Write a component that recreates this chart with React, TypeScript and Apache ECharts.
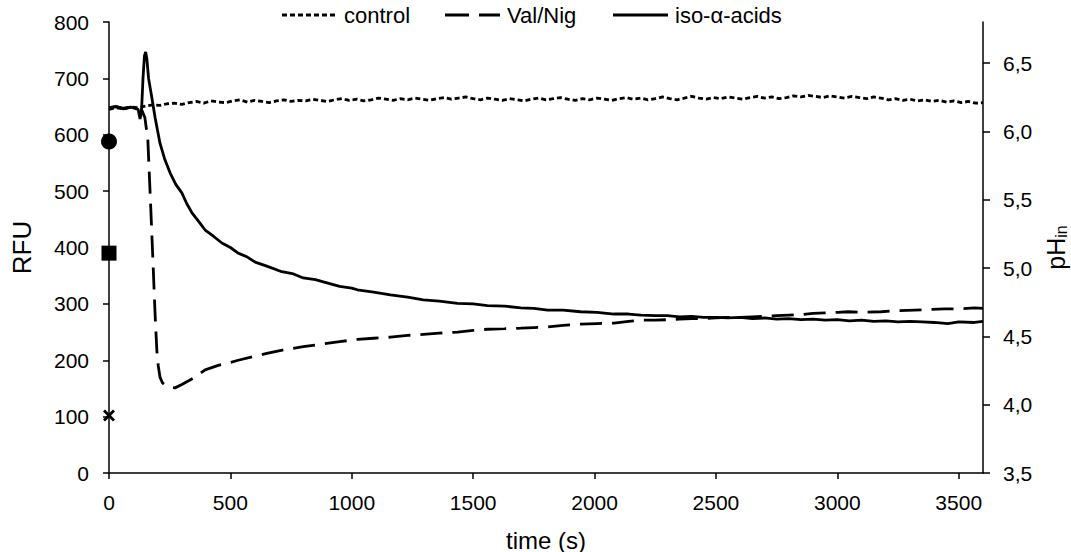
import React, { useEffect, useRef } from "react";
import * as echarts from "echarts";

// ---- data ----
const xTicks = [0, 500, 1000, 1500, 2000, 2500, 3000, 3500];
const phTicks = [3.5, 4.0, 4.5, 5.0, 5.5, 6.0, 6.5];
const legendNames = ["control", "Val/Nig", "iso-α-acids"];

const ctlT = [0,30,60,90,120,150,180,210,240,270,300,330,360,390,420,450,480,510,540,570,600,630,660,690,720,750,780,810,840,870,900,930,960,990,1020,1050,1080,1110,1140,1170,1200,1230,1260,1290,1320,1350,1380,1410,1440,1470,1500,1530,1560,1590,1620,1650,1680,1710,1740,1770,1800,1830,1860,1890,1920,1950,1980,2010,2040,2070,2100,2130,2160,2190,2220,2250,2280,2310,2340,2370,2400,2430,2460,2490,2520,2550,2580,2610,2640,2670,2700,2730,2760,2790,2820,2850,2880,2910,2940,2970,3000,3030,3060,3090,3120,3150,3180,3210,3240,3270,3300,3330,3360,3390,3420,3450,3480,3510,3540,3570,3600];
const ctlV = [645,648,646,649,648,
  651,653,652,655,656,654,657,659,656,660,658,
  657,660,662,658,661,659,657,660,662,659,661,
  660,663,661,659,662,664,661,663,660,662,665,
  663,661,664,662,665,663,661,664,666,663,665,
  667,664,662,665,663,661,664,662,660,663,665,
  662,664,666,663,661,664,662,665,663,661,664,
  666,663,665,662,664,667,664,662,665,668,665,
  663,666,664,667,665,663,666,668,665,667,664,
  666,669,667,670,668,666,669,667,665,668,666,
  664,667,665,662,664,661,663,660,662,659,661,
  658,660,657,659,656,657];

const vnT = [0,30,60,90,120,135,148,160,172,183,190,197,203,210,220,231,250,272,300,330,355,396,450,500,532,600,650,714,800,883,950,1023,1090,1159,1230,1295,1360,1436,1500,1559,1630,1696,1750,1807,1870,1943,2010,2080,2140,2191,2250,2300,2350,2400,2450,2500,2550,2600,2650,2700,2750,2800,2850,2900,2950,3000,3045,3100,3181,3250,3317,3380,3441,3500,3565,3600];
const vnV = [648,650,647,649,646,644,630,591,470,355,280,218,190,170,160,156,152,151,157,164,170,183,191,196,200,207,212,218,224,229,233,237,239,241,244,246,248,250,253,255,256,257,258,259,262,264,265,266,269,271,271,272,273,274,274,275,276,276,277,278,279,280,281,283,284,285,286,285,286,288,289,290,291,291,293,292];

const isoT = [0,30,60,90,120,128,134,140,146,151,156,163,176,190,210,230,252,275,300,320,341,370,396,430,465,500,532,570,602,650,712,760,800,850,883,950,1000,1023,1090,1159,1230,1295,1360,1436,1500,1559,1630,1696,1750,1807,1870,1943,2010,2080,2140,2191,2250,2300,2350,2400,2450,2500,2550,2600,2650,2700,2750,2800,2850,2900,2950,3000,3050,3100,3150,3200,3250,3300,3350,3400,3455,3500,3565,3600];
const isoV = [648,650,646,649,645,628,642,700,740,747,735,700,667,630,585,556,532,512,497,478,462,446,431,420,408,400,390,383,374,367,357,353,346,343,339,331,328,325,321,316,312,307,305,301,300,297,296,293,292,289,289,286,285,282,282,280,279,279,277,278,276,276,275,276,274,275,273,274,272,273,271,272,270,271,269,270,268,269,268,267,265,268,267,269];

const markerT = 0;
const circleRFU = 588;
const squareRFU = 390;
const crossRFU = 102;

const FONT = "Liberation Sans, Arial, sans-serif";
const zip = (t: number[], v: number[]) => t.map((x, i) => [x, v[i]]);
const CROSS = "path://M0,2 L2,0 L6,4 L10,0 L12,2 L8,6 L12,10 L10,12 L6,8 L2,12 L0,10 L4,6 Z";

const CTL_DASH = [5, 3];
const VN_DASH = [22, 10];
const LW = 2.8;

function legendItem(x: number, label: string, dash: number[] | null) {
  const y = 15;
  return [
    {
      type: "line",
      shape: { x1: x, y1: y, x2: x + 55, y2: y },
      style: { stroke: "#000", lineWidth: LW, lineDash: dash || undefined },
      silent: true,
    },
    {
      type: "text",
      x: x + 62,
      y,
      style: { text: label, fill: "#000", font: `22px ${FONT}`, verticalAlign: "middle", align: "left" },
      silent: true,
    },
  ];
}

export default function App() {
  const ref = useRef<HTMLDivElement>(null);
  useEffect(() => {
    document.body.style.margin = "0";
    const chart = echarts.init(ref.current!, null, { renderer: "svg" });
    chart.setOption({
      animation: false,
      backgroundColor: "#fff",
      textStyle: { fontFamily: FONT, color: "#000" },
      grid: { left: 109, right: 88, top: 22, bottom: 79, outerBoundsMode: "none", containLabel: false },
      graphic: [
        ...legendItem(282, legendNames[0], CTL_DASH),
        ...legendItem(445, legendNames[1], [24, 10]),
        ...legendItem(613, legendNames[2], null),
      ],
      xAxis: {
        type: "value",
        min: 0,
        max: 3600,
        name: "time (s)",
        nameLocation: "middle",
        nameGap: 55,
        nameTextStyle: { fontSize: 24, color: "#000", fontFamily: FONT },
        splitLine: { show: false },
        axisLine: { lineStyle: { color: "#000", width: 1.5 } },
        axisTick: { inside: false, length: 6, lineStyle: { color: "#000", width: 1.5 }, customValues: xTicks },
        axisLabel: {
          fontSize: 21,
          color: "#000",
          margin: 19,
          fontFamily: FONT,
          customValues: xTicks,
          formatter: (v: number) => String(v),
        },
      },
      yAxis: [
        {
          type: "value",
          min: 0,
          max: 800,
          interval: 100,
          position: "left",
          name: "RFU",
          nameLocation: "middle",
          nameGap: 74,
          nameTextStyle: { fontSize: 26, color: "#000", fontFamily: FONT },
          splitLine: { show: false },
          axisLine: { show: true, lineStyle: { color: "#000", width: 1.5 } },
          axisTick: { show: true, inside: false, length: 6, lineStyle: { color: "#000", width: 1.5 } },
          axisLabel: { fontSize: 21, color: "#000", margin: 20, fontFamily: FONT, formatter: (v: number) => String(v) },
        },
        {
          type: "value",
          min: 3.5,
          max: 6.8,
          position: "right",
          name: "{a|pH}{b|in}",
          nameLocation: "middle",
          nameGap: 50,
          nameTextStyle: {
            fontFamily: FONT,
            color: "#000",
            rich: {
              a: { fontSize: 25, lineHeight: 28, fontFamily: FONT, color: "#000" },
              b: { fontSize: 16, lineHeight: 28, verticalAlign: "bottom", fontFamily: FONT, color: "#000" },
            },
          },
          splitLine: { show: false },
          axisLine: { show: true, lineStyle: { color: "#000", width: 1.5 } },
          axisTick: { show: true, inside: false, length: 7, lineStyle: { color: "#000", width: 1.5 }, customValues: phTicks },
          axisLabel: {
            fontSize: 21,
            color: "#000",
            margin: 20,
            fontFamily: FONT,
            customValues: phTicks,
            formatter: (v: number) => v.toFixed(1).replace(".", ","),
          },
        },
      ],
      series: [
        {
          name: legendNames[0],
          type: "line",
          data: zip(ctlT, ctlV),
          symbol: "none",
          lineStyle: { color: "#000", width: LW, type: CTL_DASH },
          itemStyle: { color: "#000" },
          z: 3,
        },
        {
          name: legendNames[1],
          type: "line",
          data: zip(vnT, vnV),
          symbol: "none",
          lineStyle: { color: "#000", width: LW, type: VN_DASH },
          itemStyle: { color: "#000" },
          z: 3,
        },
        {
          name: legendNames[2],
          type: "line",
          data: zip(isoT, isoV),
          symbol: "none",
          lineStyle: { color: "#000", width: LW, type: "solid" },
          itemStyle: { color: "#000" },
          z: 3,
        },
        {
          name: "m1",
          type: "scatter",
          data: [[markerT, circleRFU]],
          symbol: "circle",
          symbolSize: 16,
          itemStyle: { color: "#000", opacity: 1 },
          clip: false,
          z: 5,
        },
        {
          name: "m2",
          type: "scatter",
          data: [[markerT, squareRFU]],
          symbol: "rect",
          symbolSize: 15,
          itemStyle: { color: "#000", opacity: 1 },
          clip: false,
          z: 5,
        },
        {
          name: "m3",
          type: "scatter",
          data: [[markerT, crossRFU]],
          symbol: CROSS,
          symbolSize: 12,
          itemStyle: { color: "#000", opacity: 1 },
          clip: false,
          z: 5,
        },
      ],
    });
    return () => chart.dispose();
  }, []);
  return <div ref={ref} style={{ width: 1071, height: 552 }} />;
}
